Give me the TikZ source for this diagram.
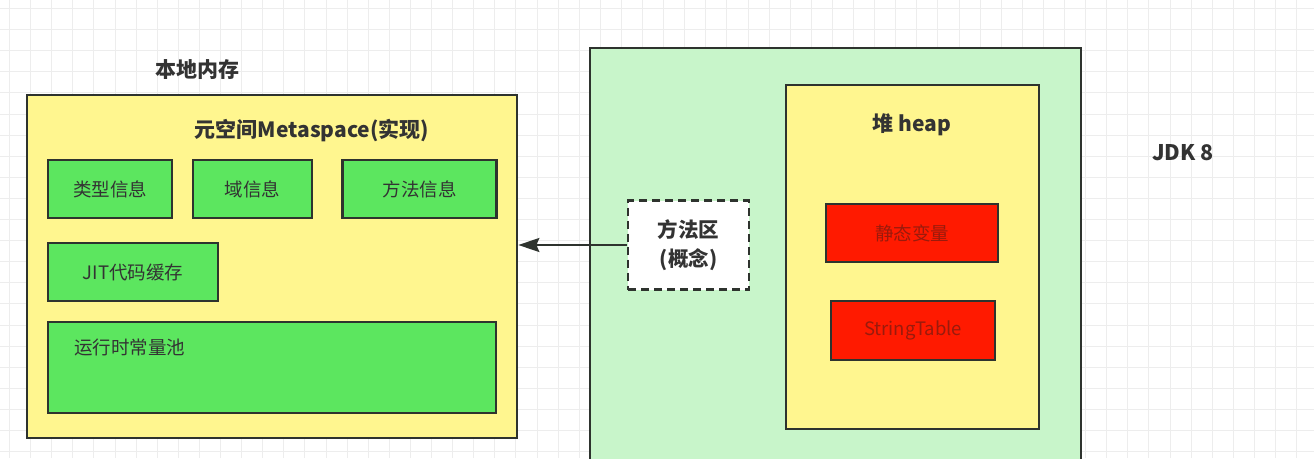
\documentclass[tikz,border=0pt]{standalone}
\usepackage{fontspec}
\setmainfont{Noto Sans CJK SC}
\usetikzlibrary{arrows.meta}
\definecolor{bordc}{HTML}{2E332E}
\definecolor{yelc}{HTML}{FFF68F}
\definecolor{grnc}{HTML}{5CE65F}
\definecolor{lgrnc}{HTML}{C8F5CA}
\definecolor{redc}{HTML}{FF1A00}
\definecolor{redtxt}{HTML}{9A1A0C}
\definecolor{txtc}{HTML}{333333}
\definecolor{gridc}{HTML}{EDEDED}
\tikzset{
  box/.style={draw=bordc, line width=2.7pt, rectangle, inner sep=0pt},
  yelbox/.style={box, fill=yelc},
  grnbox/.style={box, fill=grnc, font=\fontsize{18.5}{21}\selectfont, text=txtc},
  redbox/.style={box, fill=redc, font=\fontsize{18.5}{21}\selectfont, text=redtxt},
  title/.style={font=\bfseries\fontsize{21}{24}\selectfont, text=txtc, inner sep=0pt},
  plain/.style={font=\fontsize{18.5}{21}\selectfont, text=txtc, inner sep=0pt},
  conn/.style={draw=bordc, line width=2.2pt, -{Stealth[length=21pt,width=14pt,inset=3pt]}}
}
\begin{document}
\begin{tikzpicture}[x=1pt,y=-1pt]
\useasboundingbox (0,0) rectangle (1314,458);
\clip (0,0) rectangle (1314,458);
\fill[white] (0,0) rectangle (1314,458);
% background grid
\foreach \i in {0,...,62} {
  \draw[gridc, line width=1pt] ({9.5+21.1*\i},0) -- ({9.5+21.1*\i},458);
}
\foreach \j in {0,...,22} {
  \draw[gridc, line width=1pt] (0,{8.5+21.1*\j}) -- (1314,{8.5+21.1*\j});
}
% left: native memory
\node[title] (bd) at (197,70) {本地内存};
\node[yelbox, minimum width=490pt, minimum height=343pt] (meta) at (272,266.5) {};
\node[title] (metat) at (312,131) {元空间Metaspace(实现)};
\node[grnbox, minimum width=124pt, minimum height=58pt] (lx) at (110,189) {类型信息};
\node[grnbox, minimum width=119pt, minimum height=58pt] (yx) at (252.5,189) {域信息};
\node[grnbox, minimum width=154pt, minimum height=58pt] (ff) at (419.5,189) {方法信息};
\node[grnbox, minimum width=170pt, minimum height=58pt] (jit) at (133,272) {JIT代码缓存};
\node[grnbox, minimum width=448pt, minimum height=91pt] (rt) at (272,367.5) {};
\node[plain, anchor=west] (rtl) at (74,347) {运行时常量池};
% right: JDK 8 heap
\node[box, fill=lgrnc, minimum width=491pt, minimum height=430pt] (jvm) at (835.5,263) {};
\node[yelbox, minimum width=253pt, minimum height=344pt] (heap) at (912.5,257) {};
\node[title] (heapt) at (912,125) {堆 heap};
\node[redbox, minimum width=172pt, minimum height=58pt] (jt) at (912,233) {静态变量};
\node[redbox, minimum width=164pt, minimum height=59pt] (st) at (913,330.5) {StringTable};
\node[box, dashed, dash pattern=on 8pt off 5pt, fill=white, minimum width=121pt, minimum height=89pt, align=center, font=\bfseries\fontsize{20.5}{29}\selectfont, text=txtc] (fq) at (688.5,245) {方法区\\(概念)};
\node[title, font=\bfseries\fontsize{21.5}{24}\selectfont] (jdk) at (1183,153) {JDK 8};
% connector
\draw[conn] (fq.west) -- (fq.west -| meta.east);
\end{tikzpicture}
\end{document}
